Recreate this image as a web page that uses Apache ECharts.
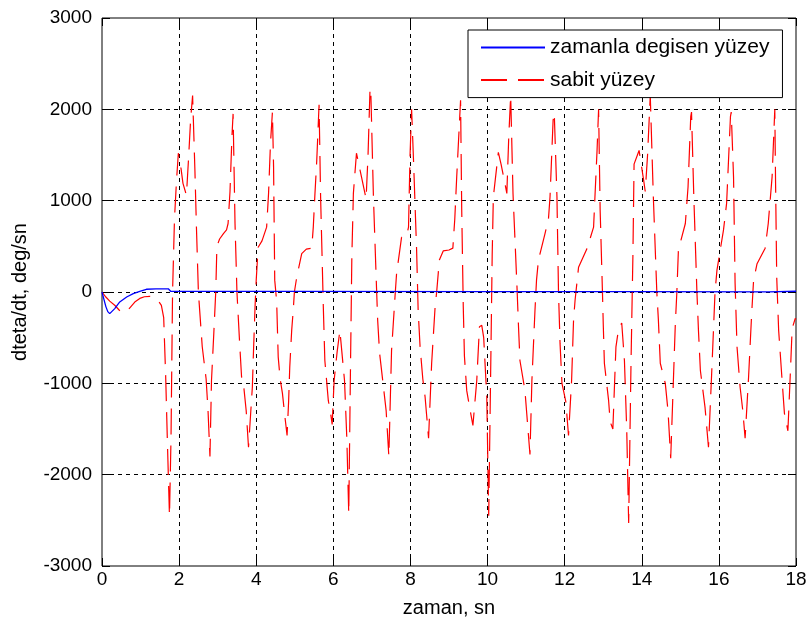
<!DOCTYPE html>
<html><head><meta charset="utf-8">
<script src="https://cdn.jsdelivr.net/npm/echarts@6/dist/echarts.min.js"></script>
<style>html,body{margin:0;padding:0;background:#fff}#c{width:807px;height:628px}</style>
</head><body><div id="c"></div>
<script>
// ---- data ----
const xTickValues = [0, 2, 4, 6, 8, 10, 12, 14, 16, 18];
const yTickValues = [-3000, -2000, -1000, 0, 1000, 2000, 3000];
const seriesNames = ['zamanla degisen yüzey', 'sabit yüzey'];
const xAxisName = 'zaman, sn';
const yAxisName = 'dteta/dt, deg/sn';

// zamanla degisen yüzey : [t, dteta/dt]
const degisenData = [
  [0,0],[0.05,-80],[0.1,-160],[0.15,-215],[0.2,-237],[0.33,-182],[0.46,-109],[0.64,-55],
  [0.81,-18],[0.98,8],[1.15,30],[1.4,35],[1.72,35],[1.78,8],[5,6],[10,5],[13.8,5],
  [13.85,1],[17.3,1],[17.35,8],[18,8]
];

// sabit yüzey : [t, dteta/dt]
const sabitData = [
  [0,0],[0.1,-55],[0.2,-100],[0.33,-145],[0.45,-200],[0.55,-228],[0.65,-210],[0.75,-160],
  [0.85,-110],[0.98,-70],[1.1,-52],[1.24,-47],[1.35,-58],[1.45,-90],[1.54,-146],[1.6,-280],
  [1.65,-900],[1.7,-1700],[1.75,-2450],[1.79,-1600],[1.83,0],[1.88,800],[1.93,1200],[1.98,1520],
  [2.05,1350],[2.1,1190],[2.19,1060],[2.25,1500],[2.3,1900],[2.35,2150],[2.41,1330],[2.45,700],
  [2.5,0],[2.6,-600],[2.7,-950],[2.75,-1300],[2.8,-1800],[2.84,-970],[2.9,-450],[2.95,0],
  [2.98,500],[3.05,580],[3.15,640],[3.23,680],[3.27,750],[3.32,1100],[3.37,1700],[3.4,1950],
  [3.45,750],[3.5,0],[3.57,-560],[3.62,-930],[3.68,-1050],[3.74,-1300],[3.8,-1700],[3.86,-1300],
  [3.9,-1040],[3.93,-640],[3.97,-160],[4.0,130],[4.05,490],[4.15,560],[4.27,710],[4.32,1080],
  [4.37,1630],[4.42,1970],[4.45,1370],[4.48,130],[4.53,-100],[4.57,-710],[4.62,-950],[4.68,-1110],
  [4.74,-1350],[4.8,-1570],[4.84,-1200],[4.87,-820],[4.92,-420],[4.96,-200],[4.99,0],[5.05,160],
  [5.18,420],[5.3,470],[5.44,480],[5.48,710],[5.52,1050],[5.57,1440],[5.63,2050],[5.67,1040],
  [5.74,-160],[5.78,-750],[5.87,-1190],[5.92,-1300],[5.97,-1450],[6.02,-970],[6.1,-650],[6.17,-420],
  [6.22,-400],[6.29,-970],[6.35,-1600],[6.4,-2430],[6.44,-1000],[6.48,380],[6.52,1080],[6.6,1520],
  [6.66,1400],[6.73,1260],[6.85,1020],[6.9,1500],[6.95,2200],[6.97,2230],[7.04,1040],[7.12,50],
  [7.15,-310],[7.2,-670],[7.3,-1040],[7.37,-1300],[7.44,-1800],[7.51,-640],[7.6,-50],[7.64,200],
  [7.77,600],[7.9,610],[7.95,710],[7.99,1500],[8.03,2000],[8.08,1440],[8.16,460],[8.2,-200],
  [8.25,-600],[8.32,-950],[8.38,-1150],[8.42,-1350],[8.47,-1600],[8.55,-780],[8.64,-160],[8.68,0],
  [8.75,350],[8.85,450],[9.0,460],[9.1,480],[9.15,800],[9.2,1260],[9.3,2100],[9.33,900],
  [9.37,-160],[9.4,-700],[9.46,-1080],[9.55,-1300],[9.62,-1460],[9.72,-970],[9.79,-380],[9.85,-365],
  [9.9,-500],[9.98,-1150],[10.03,-2450],[10.08,-900],[10.12,400],[10.15,1040],[10.28,1530],[10.35,1400],
  [10.45,1190],[10.5,1080],[10.55,1700],[10.6,2150],[10.66,1080],[10.76,90],[10.8,-350],[10.84,-750],
  [10.97,-1080],[11.02,-1350],[11.1,-1780],[11.15,-970],[11.23,-200],[11.27,130],[11.32,350],[11.49,640],
  [11.58,800],[11.62,1040],[11.7,1880],[11.73,1960],[11.8,1040],[11.84,0],[11.88,-560],[11.93,-1000],
  [12.03,-1200],[12.1,-1570],[12.18,-970],[12.23,-310],[12.27,-90],[12.36,270],[12.58,475],[12.75,710],
  [12.84,1550],[12.88,2000],[12.92,900],[12.98,0],[13.0,-340],[13.03,-780],[13.14,-1190],[13.18,-1420],
  [13.25,-1500],[13.33,-600],[13.4,-400],[13.48,-340],[13.55,-750],[13.61,-1510],[13.66,-2530],[13.72,-800],
  [13.77,400],[13.8,1400],[13.93,1550],[14.05,1220],[14.09,1100],[14.15,1500],[14.22,2150],[14.3,1040],
  [14.39,0],[14.43,-300],[14.48,-780],[14.61,-1000],[14.68,-1300],[14.75,-1820],[14.82,-970],[14.87,-350],
  [14.91,0],[14.95,460],[15.13,750],[15.2,1150],[15.27,1920],[15.29,1970],[15.35,1040],[15.43,0],
  [15.47,-420],[15.52,-860],[15.64,-1260],[15.73,-1700],[15.82,-820],[15.9,0],[15.95,240],[16.12,680],
  [16.2,970],[16.3,1920],[16.32,1970],[16.38,1260],[16.42,100],[16.47,-600],[16.55,-1040],[16.62,-1300],
  [16.68,-1600],[16.77,-930],[16.85,-240],[16.9,130],[16.99,310],[17.2,480],[17.28,750],[17.38,1260],
  [17.45,2000],[17.47,1200],[17.5,160],[17.55,-420],[17.64,-970],[17.7,-1330],[17.79,-1520],[17.86,-820],
  [17.9,-400],[17.98,-290],[18.0,-300]
];

// ---- chart ----
const tickFont = "'Liberation Sans', Arial, sans-serif";
const textFont = "'Liberation Sans', Arial, sans-serif";
const gridLine = { show: true, showMinLine: false, showMaxLine: false, lineStyle: { color: '#000', width: 1, type: [4, 4] } };
const xMin = xTickValues[0], xMax = xTickValues[xTickValues.length - 1];
const yMin = yTickValues[0], yMax = yTickValues[yTickValues.length - 1];
const xStep = xTickValues[1] - xTickValues[0], yStep = yTickValues[1] - yTickValues[0];
const plain = v => String(v);
const noLine = { show: false, onZero: false };
const tick = { show: true, inside: true, length: 8, lineStyle: { color: '#000', width: 1 } };

const chart = echarts.init(document.getElementById('c'), null, { renderer: 'canvas' });
chart.setOption({
  animation: false,
  backgroundColor: '#fff',
  grid: {
    left: 102, right: 11, top: 18, bottom: 62, containLabel: false, outerBoundsMode: 'none',
    show: true, borderColor: '#000', borderWidth: 1, backgroundColor: 'transparent'
  },
  legend: {
    orient: 'vertical', left: 468, top: 30,
    backgroundColor: '#fff', borderColor: '#000', borderWidth: 1, borderRadius: 0,
    padding: [7, 13, 7, 12], itemWidth: 64, itemHeight: 20, itemGap: 11.6,
    itemStyle: { opacity: 0 },
    textStyle: { fontSize: 21, fontFamily: textFont, color: '#000' },
    data: seriesNames
  },
  xAxis: [{
    type: 'value', min: xMin, max: xMax, interval: xStep, position: 'bottom',
    name: xAxisName, nameLocation: 'middle', nameGap: 32,
    nameTextStyle: { fontSize: 20, fontFamily: textFont, color: '#000' },
    axisLine: noLine, axisTick: tick,
    axisLabel: { fontSize: 19, fontFamily: tickFont, color: '#000', margin: 4, formatter: plain },
    splitLine: gridLine
  }, {
    type: 'value', min: xMin, max: xMax, interval: xStep, position: 'top',
    axisLine: noLine, axisTick: tick,
    axisLabel: { show: false }, splitLine: { show: false }
  }],
  yAxis: [{
    type: 'value', min: yMin, max: yMax, interval: yStep, position: 'left',
    name: yAxisName, nameLocation: 'middle', nameGap: 72,
    nameTextStyle: { fontSize: 20, fontFamily: textFont, color: '#000' },
    axisLine: noLine, axisTick: tick,
    axisLabel: { fontSize: 19, fontFamily: tickFont, color: '#000', margin: 10, formatter: plain },
    splitLine: gridLine
  }, {
    type: 'value', min: yMin, max: yMax, interval: yStep, position: 'right',
    axisLine: noLine, axisTick: tick,
    axisLabel: { show: false }, splitLine: { show: false }
  }],
  series: [{
    name: seriesNames[0], type: 'line', data: degisenData, symbol: 'none',
    xAxisIndex: 0, yAxisIndex: 0,
    lineStyle: { color: '#0000ff', width: 1.3, type: 'solid' }, itemStyle: { color: '#0000ff' }, z: 3
  }, {
    name: seriesNames[1], type: 'line', data: sabitData, symbol: 'none',
    xAxisIndex: 0, yAxisIndex: 0,
    lineStyle: { color: '#ff0000', width: 1.2, type: [26, 11] }, itemStyle: { color: '#ff0000' }, z: 2
  }]
});
</script></body></html>
